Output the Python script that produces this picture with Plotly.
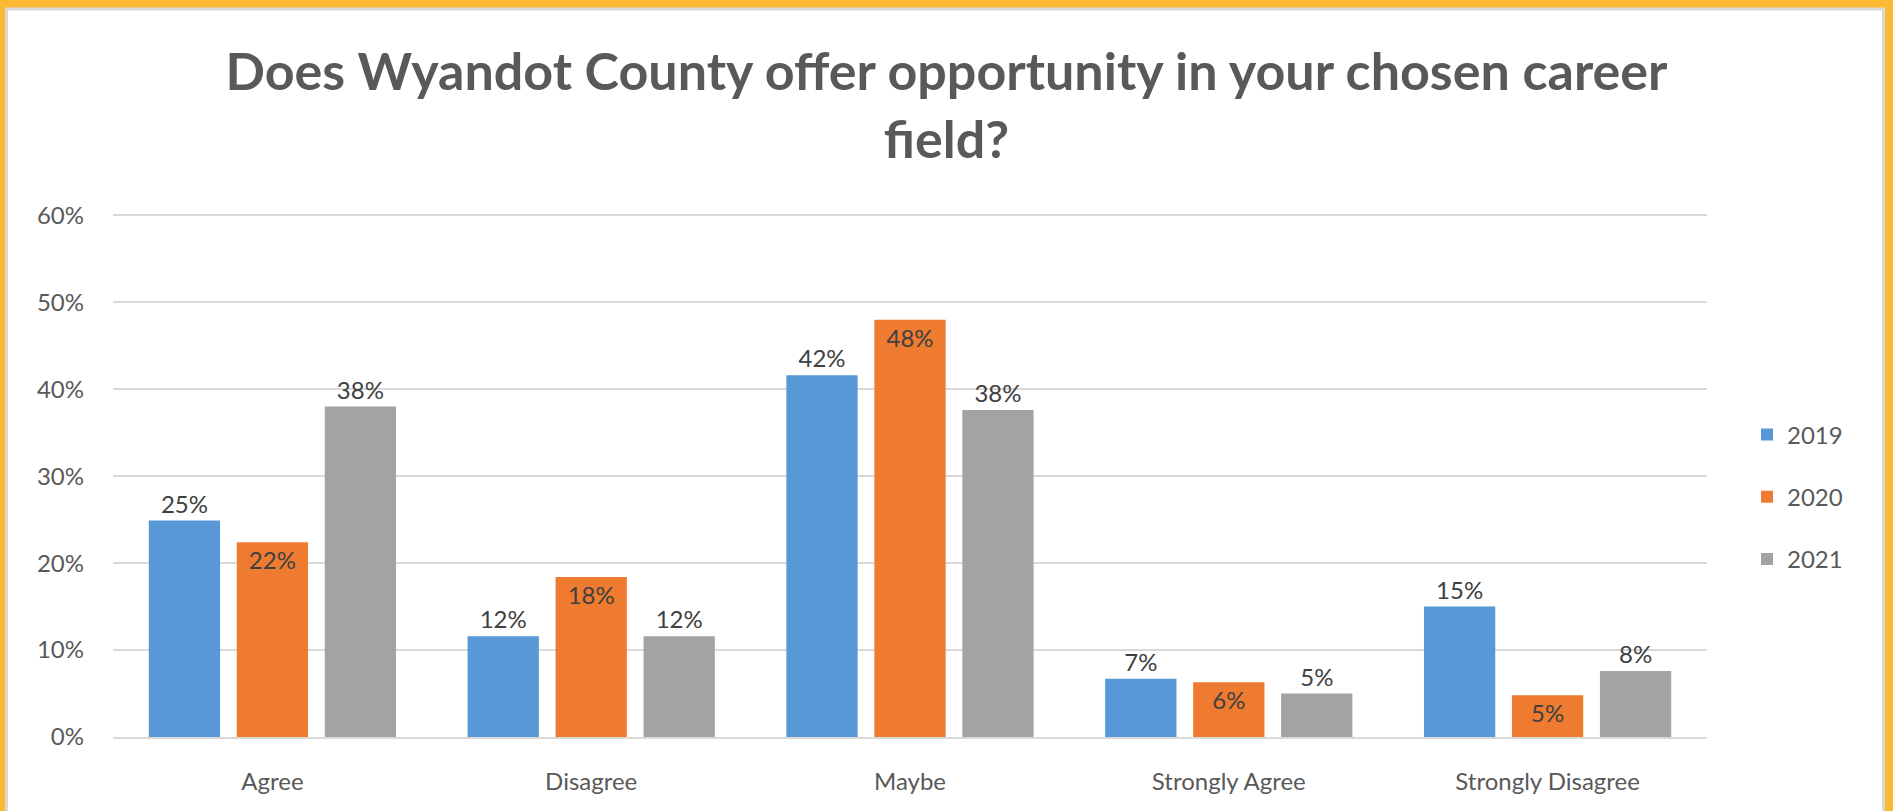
import plotly.graph_objects as go

categories = ["Agree", "Disagree", "Maybe", "Strongly Agree", "Strongly Disagree"]
series_names = ["2019", "2020", "2021"]
values_2019 = [0.249, 0.116, 0.416, 0.067, 0.150]
values_2020 = [0.224, 0.184, 0.480, 0.063, 0.048]
values_2021 = [0.380, 0.116, 0.376, 0.050, 0.076]
y_ticks = [0, 0.1, 0.2, 0.3, 0.4, 0.5, 0.6]
title_text = "Does Wyandot County offer opportunity in your chosen career<br>field?"

colors = ["#5898D6", "#EE7B30", "#A3A3A3"]
text_pos = ["outside", "inside", "outside"]
FONT = "Lato"

W, H = 1893, 811
L, R, T, B = 113, 186, 211, 74
pw, ph = W - L - R, H - T - B

def px_x(p):
    return (p - L) / pw

def px_y(p):
    return (H - B - p) / ph

fig = go.Figure()
for name, vals, col, tp in zip(series_names, [values_2019, values_2020, values_2021], colors, text_pos):
    fig.add_trace(go.Bar(
        name=name, x=categories, y=vals,
        marker=dict(color=col, line=dict(width=0)),
        texttemplate="%{y:.0%}", textposition=tp,
        insidetextanchor="end",
        textfont=dict(family=FONT, size=24, color="#404040"),
        constraintext="none",
        cliponaxis=False,
        legendgroup=name,
    ))

fig.update_layout(
    width=W, height=H,
    margin=dict(l=L, r=R, t=T, b=B, pad=0),
    paper_bgcolor="#FDB934",
    plot_bgcolor="white",
    barmode="group",
    bargap=0.172,
    bargroupgap=0.19,
    font=dict(family=FONT, color="#595959"),
    title=dict(
        text=title_text, x=0.5, xref="container", xanchor="center",
        y=1 - 90 / H, yref="container", yanchor="top",
        font=dict(family=FONT, size=52, color="#595959", weight="bold"),
    ),
    legend=dict(
        x=px_x(1747), xanchor="left", y=px_y(497), yanchor="middle",
        font=dict(family=FONT, size=24, color="#595959"),
        traceorder="grouped", tracegroupgap=28,
        bgcolor="rgba(0,0,0,0)",
    ),
    showlegend=True,
    shapes=[dict(
        type="rect", xref="paper", yref="paper", layer="below",
        x0=px_x(6.5), x1=px_x(1883.5), y0=px_y(830), y1=px_y(9),
        fillcolor="white", line=dict(color="#D9D9D9", width=3),
    )],
)

fig.update_yaxes(
    range=[0, 0.605], tickvals=y_ticks, tickformat=".0%",
    showgrid=True, gridcolor="#D9D9D9", gridwidth=2,
    zeroline=False, showline=False, ticks="",
    tickfont=dict(family=FONT, size=24, color="#595959"),
    ticklabelstandoff=28,
)
fig.update_xaxes(
    showline=True, linecolor="#D9D9D9", linewidth=2, ticks="",
    tickfont=dict(family=FONT, size=24, color="#595959"),
    ticklabelstandoff=22,
)

fig.write_html(
    "out.html",
    config={"displayModeBar": False},
    post_script="document.body.style.margin='0';document.body.style.overflow='hidden';",
)
